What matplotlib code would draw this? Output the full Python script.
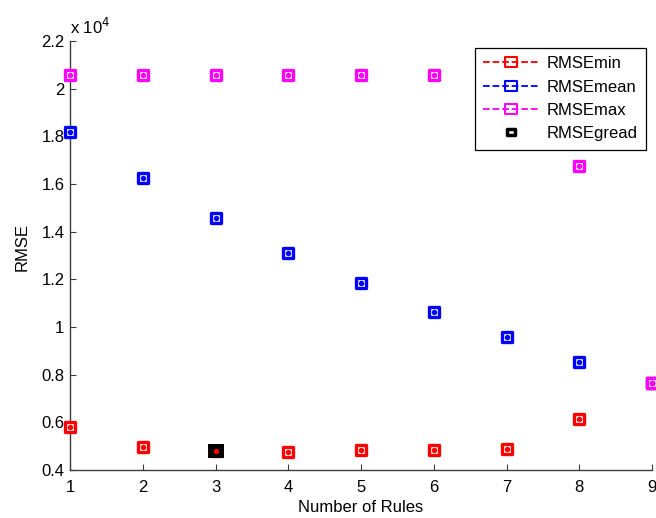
import matplotlib
matplotlib.use("Agg")
import matplotlib.pyplot as plt
from matplotlib.lines import Line2D
from matplotlib.path import Path
from matplotlib.ticker import FuncFormatter, FixedLocator

plt.rcParams['font.family'] = ['Liberation Sans', 'DejaVu Sans']
plt.rcParams['font.size'] = 12

rules = [1, 2, 3, 4, 5, 6, 7, 8, 9]
rmse_min = [5800, 4950, 4780, 4770, 4820, 4820, 4870, 6120, 7650]
rmse_mean = [18200, 16250, 14560, 13120, 11830, 10630, 9560, 8530, 7650]
rmse_max = [20580, 20580, 20580, 20580, 20580, 20580, 18800, 16750, 7650]
gread_x = [3]
gread_y = [4780]
yticks = [4000, 6000, 8000, 10000, 12000, 14000, 16000, 18000, 20000, 22000]

W, H = 656, 518
fig = plt.figure(figsize=(W / 100, H / 100), dpi=100)
ax = fig.add_axes([70 / W, 1 - 470 / H, 582 / W, 429 / H])

rect = Path([(-0.6, -0.5), (0.6, -0.5), (0.6, 0.5), (-0.6, 0.5), (-0.6, -0.5)],
            [Path.MOVETO, Path.LINETO, Path.LINETO, Path.LINETO, Path.CLOSEPOLY])

spine_col = '#3c3c3c'
for s in ['top', 'right']:
    ax.spines[s].set_visible(False)
for s in ['left', 'bottom']:
    ax.spines[s].set_color(spine_col)
    ax.spines[s].set_linewidth(1.0)

def draw_series(y, col):
    ax.plot(rules, y, ls='none', marker=rect, ms=7.8, mew=2.4, mec=col,
            mfc='white', zorder=3, clip_on=False)

def draw_dots(y, col):
    ax.plot(rules, y, ls='none', marker='o', ms=3.9, mew=0, mfc=col,
            zorder=6, clip_on=False)

draw_series(rmse_min, '#ff0000')
ax.plot(gread_x, gread_y, ls='none', marker=rect, ms=11.5, mew=0, mfc='black',
        zorder=5, clip_on=False)
draw_dots(rmse_min, '#ff0000')
draw_series(rmse_mean, '#0000ff')
draw_dots(rmse_mean, '#0000ff')
draw_series(rmse_max, '#ff00ff')
draw_dots(rmse_max, '#ff00ff')

ax.set_xlim(1, 9)
ax.set_ylim(4000, 22000)
ax.set_xticks(rules)
ax.yaxis.set_major_locator(FixedLocator(yticks))
ax.yaxis.set_major_formatter(FuncFormatter(lambda v, p: '%g' % (v / 1e4)))
ax.tick_params(direction='in', length=4, width=0.8, color=spine_col,
               labelsize=12)
ax.tick_params(axis='x', pad=7)
ax.tick_params(axis='y', pad=4)

ax.text(0, 1 + 14 / 429, r'x 10$^{4}$', transform=ax.transAxes,
        ha='left', va='center', fontsize=12)

ax.set_xlabel('Number of Rules', fontsize=12, labelpad=4)
ax.set_ylabel('RMSE', fontsize=12)
ax.yaxis.set_label_coords(-40 / 582, 0.52)

handles = [
    Line2D([], [], color='#ff0000', ls='--', lw=1.3, marker=rect, ms=8,
           mew=1.5, mfc='none', mec='#ff0000'),
    Line2D([], [], color='#0000ff', ls='--', lw=1.3, marker=rect, ms=8,
           mew=1.5, mfc='none', mec='#0000ff'),
    Line2D([], [], color='#ff00ff', ls='--', lw=1.3, marker=rect, ms=8,
           mew=1.5, mfc='none', mec='#ff00ff'),
    Line2D([], [], ls='none', marker=rect, ms=5.5, mew=2.5, mfc='white',
           mec='black'),
]
labels = ['RMSEmin', 'RMSEmean', 'RMSEmax', 'RMSEgread']
leg = fig.legend(handles, labels, loc='upper right',
                 bbox_to_anchor=(646 / W, 1 - 48 / H),
                 bbox_transform=fig.transFigure, borderaxespad=0,
                 fancybox=False, framealpha=1, edgecolor='black',
                 handlelength=3.3, handletextpad=0.5, labelspacing=0.5,
                 borderpad=0.5, fontsize=12)
leg.get_frame().set_linewidth(0.9)
leg.set_zorder(10)

fig.savefig('out.png', dpi=100)
